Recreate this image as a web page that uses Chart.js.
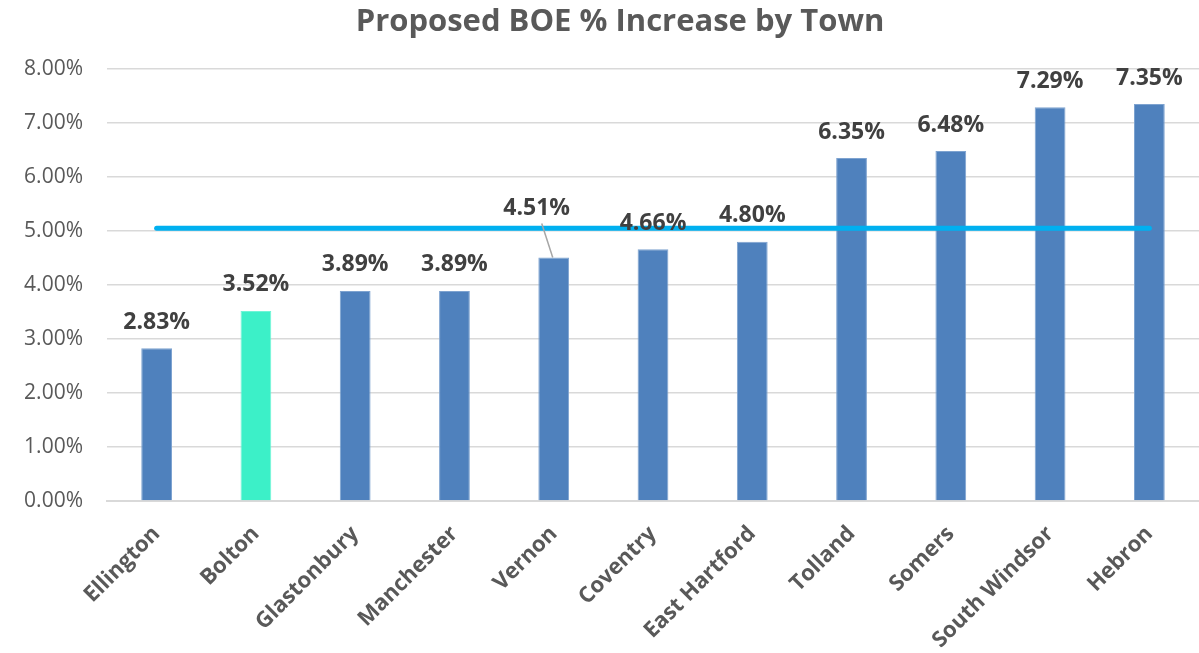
<!DOCTYPE html>
<html>
<head>
<meta charset="utf-8">
<script src="https://cdn.jsdelivr.net/npm/chart.js@4/dist/chart.umd.min.js"></script>
<style>
  body { margin: 0; background: #fff; }
</style>
</head>
<body>
<canvas id="boeChart" width="1199" height="653"></canvas>
<script>
// data
const towns = ['Ellington', 'Bolton', 'Glastonbury', 'Manchester', 'Vernon', 'Coventry',
  'East Hartford', 'Tolland', 'Somers', 'South Windsor', 'Hebron'];
const increases = [2.83, 3.52, 3.89, 3.89, 4.51, 4.66, 4.80, 6.35, 6.48, 7.29, 7.35];
const averageLine = [5.05, 5.05, 5.05, 5.05, 5.05, 5.05, 5.05, 5.05, 5.05, 5.05, 5.05];
const yTicks = [0, 1, 2, 3, 4, 5, 6, 7, 8];
const chartTitle = 'Proposed BOE % Increase by Town';

const blue = '#4F81BD';
const teal = '#3CF0C8';
const barColors = towns.map(t => t === 'Bolton' ? teal : blue);

// title sits a bit right of the canvas centre, like the original
const offsetTitle = {
  id: 'offsetTitle',
  afterDraw(chart) {
    const ctx = chart.ctx;
    ctx.save();
    ctx.font = 'bold 31px "Open Sans"';
    ctx.fillStyle = '#595959';
    ctx.textAlign = 'center';
    ctx.textBaseline = 'middle';
    ctx.fillText(chartTitle, 620, 22);
    ctx.restore();
  }
};

// value labels above the bars, Vernon's one is moved out with a leader line
const barLabels = {
  id: 'barLabels',
  afterDatasetsDraw(chart) {
    const ctx = chart.ctx;
    const meta = chart.getDatasetMeta(0);
    ctx.save();
    ctx.font = 'bold 23px "Open Sans"';
    ctx.fillStyle = '#404040';
    ctx.textAlign = 'center';
    ctx.textBaseline = 'middle';
    meta.data.forEach((bar, i) => {
      let lx = bar.x;
      let ly = bar.y - 26;
      if (towns[i] === 'Vernon') {
        lx = bar.x - 17;
        ly = bar.y - 49;
        ctx.strokeStyle = '#a6a6a6';
        ctx.lineWidth = 1.5;
        ctx.beginPath();
        ctx.moveTo(lx + 5, ly + 15);
        ctx.lineTo(bar.x - 1, bar.y);
        ctx.stroke();
      }
      ctx.fillText(increases[i].toFixed(2) + '%', lx, ly);
    });
    ctx.restore();
  }
};

const chart = new Chart(document.getElementById('boeChart'), {
  data: {
    labels: towns,
    datasets: [{
      type: 'bar',
      data: increases,
      backgroundColor: barColors,
      borderColor: towns.map(t => t === 'Bolton' ? '#6ff5d6' : '#7ea3d0'),
      borderWidth: 1,
      barPercentage: 0.31,
      categoryPercentage: 1,
      order: 1
    }, {
      type: 'line',
      data: averageLine,
      borderColor: '#00B0F0',
      borderWidth: 5,
      borderCapStyle: 'round',
      pointRadius: 0,
      fill: false,
      order: 0
    }]
  },
  options: {
    responsive: false,
    animation: false,
    layout: { padding: { left: 0, right: 0, top: 69, bottom: 0 } },
    plugins: {
      legend: { display: false },
      tooltip: { enabled: false },
      title: { display: false }
    },
    scales: {
      x: {
        grid: { display: false, drawTicks: false },
        border: { display: true, color: '#d9d9d9', width: 2 },
        ticks: {
          color: '#595959',
          font: { family: '"Open Sans"', size: 22, weight: 'bold' },
          maxRotation: 45,
          minRotation: 45,
          padding: 20
        },
        afterFit(scale) { scale.height = 152; }
      },
      y: {
        min: 0,
        max: 8,
        afterBuildTicks(scale) { scale.ticks = yTicks.map(v => ({ value: v })); },
        grid: { color: '#d9d9d9', lineWidth: 1.5, drawTicks: false },
        border: { display: false },
        ticks: {
          color: '#595959',
          font: { family: '"Open Sans"', size: 21 },
          padding: 24,
          callback: v => v.toFixed(2) + '%'
        },
        afterFit(scale) { scale.width = 107; }
      }
    }
  },
  plugins: [barLabels, offsetTitle]
});
</script>
</body>
</html>
